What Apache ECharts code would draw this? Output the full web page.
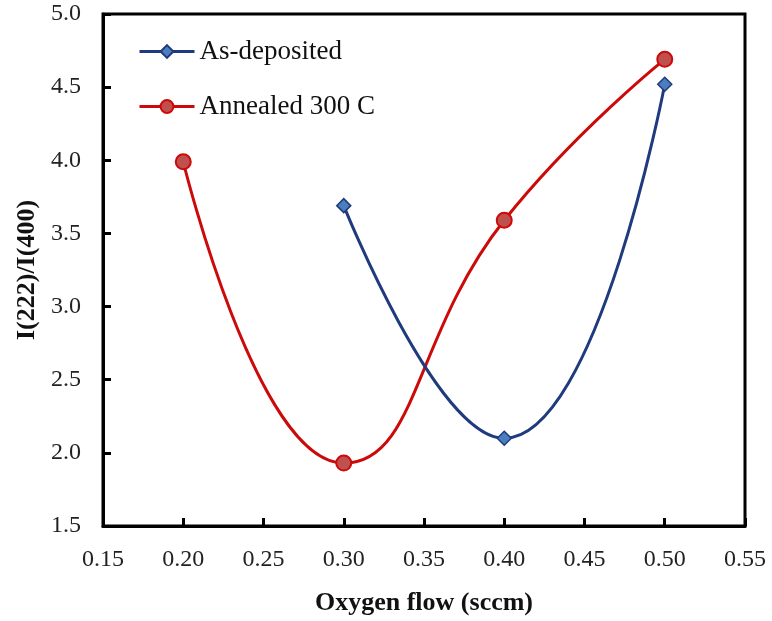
<!DOCTYPE html>
<html>
<head>
<meta charset="utf-8">
<script src="https://cdn.jsdelivr.net/npm/echarts@6/dist/echarts.min.js"></script>
<style>
  html, body { margin: 0; padding: 0; background: #fff; }
  #chart { width: 772px; height: 621px; }
</style>
</head>
<body>
<div id="chart"></div>
<script>
// Oxygen flow (sccm) and I(222)/I(400) ratio for each film state
const asDepositedFlow = [0.30, 0.40, 0.50];
const asDepositedRatio = [3.69, 2.10, 4.52];
const annealedFlow = [0.20, 0.30, 0.40, 0.50];
const annealedRatio = [3.99, 1.93, 3.59, 4.69];

const seriesNames = ['As-deposited', 'Annealed 300 C'];
const xTitle = 'Oxygen flow (sccm)';
const yTitle = 'I(222)/I(400)';

const pairs = (xs, ys) => xs.map((x, i) => [x, ys[i]]);
const serif = '"Liberation Serif", "Times New Roman", serif';

const chart = echarts.init(document.getElementById('chart'), null, { renderer: 'canvas' });
chart.setOption({
  animation: false,
  backgroundColor: '#ffffff',
  grid: {
    left: 103, top: 14, width: 642, height: 514,
    show: true, borderColor: '#000', borderWidth: 3, backgroundColor: 'transparent'
  },
  legend: {
    orient: 'vertical',
    left: 133, top: 33,
    itemGap: 28,
    itemWidth: 55, itemHeight: 16,
    lineStyle: { width: 3 },
    textStyle: { fontFamily: serif, fontSize: 27, color: '#111' },
    data: seriesNames
  },
  xAxis: {
    type: 'value', min: 0.15, max: 0.55, interval: 0.05,
    name: xTitle, nameLocation: 'middle', nameGap: 64,
    nameTextStyle: { fontFamily: serif, fontSize: 26, fontWeight: 'bold', color: '#111' },
    axisLine: { show: true, onZero: false, lineStyle: { color: '#000', width: 3 } },
    axisTick: { show: true, inside: true, length: 8, lineStyle: { color: '#000', width: 3 } },
    axisLabel: { fontFamily: serif, fontSize: 24, color: '#222', margin: 22,
                 formatter: v => v.toFixed(2) },
    splitLine: { show: false }
  },
  yAxis: {
    type: 'value', min: 1.5, max: 5.0, interval: 0.5,
    name: yTitle, nameLocation: 'middle', nameGap: 60,
    nameTextStyle: { fontFamily: serif, fontSize: 26, fontWeight: 'bold', color: '#111' },
    axisLine: { show: true, onZero: false, lineStyle: { color: '#000', width: 3 } },
    axisTick: { show: true, inside: true, length: 8, lineStyle: { color: '#000', width: 3 } },
    axisLabel: { fontFamily: serif, fontSize: 24, color: '#222', margin: 22,
                 formatter: v => v.toFixed(1) },
    splitLine: { show: false }
  },
  series: [
    {
      name: seriesNames[0], type: 'line', smooth: 0.5,
      data: pairs(asDepositedFlow, asDepositedRatio),
      symbol: 'diamond', symbolSize: 14,
      lineStyle: { color: '#1f3a7d', width: 3 },
      itemStyle: { color: '#4a7ebf', borderColor: '#1f3a7d', borderWidth: 1.5 },
      z: 3
    },
    {
      name: seriesNames[1], type: 'line', smooth: 0.5,
      data: pairs(annealedFlow, annealedRatio),
      symbol: 'circle', symbolSize: 15,
      lineStyle: { color: '#cc0a0a', width: 3 },
      itemStyle: { color: '#c0504d', borderColor: '#cc0a0a', borderWidth: 2 },
      z: 2
    }
  ]
});
</script>
</body>
</html>
